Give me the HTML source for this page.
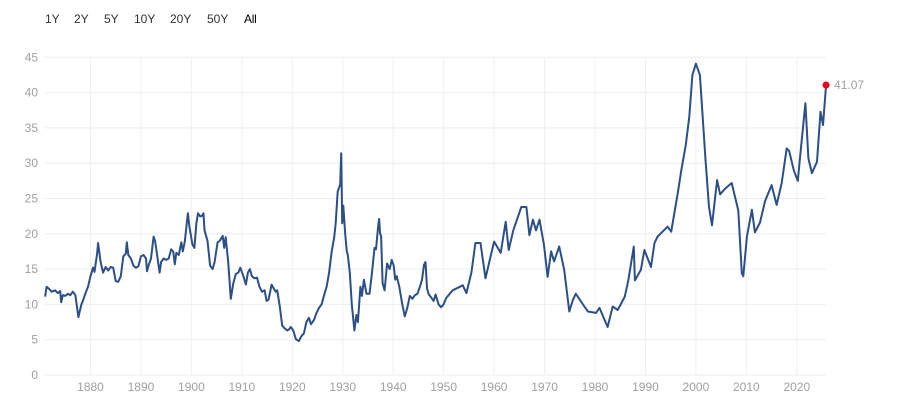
<!DOCTYPE html>
<html><head><meta charset="utf-8"><style>
body{margin:0;background:#fff;font-family:"Liberation Sans",sans-serif;}
#wrap{position:relative;width:917px;height:405px;overflow:hidden;}
.btn{position:absolute;top:12px;font-size:12px;color:#333;cursor:pointer;}
</style></head><body>
<div id="wrap">
<span class="btn" style="left:45px">1Y</span>
<span class="btn" style="left:74px">2Y</span>
<span class="btn" style="left:104px">5Y</span>
<span class="btn" style="left:134px">10Y</span>
<span class="btn" style="left:170px">20Y</span>
<span class="btn" style="left:207px">50Y</span>
<span class="btn" style="left:244px;color:#000;letter-spacing:-0.3px">All</span>
<svg id="chart" width="917" height="405" style="position:absolute;left:0;top:0"></svg>
</div>
<script>
const years=[1871.0,1871.3,1871.8,1872.3,1873,1873.5,1874,1874.2,1874.5,1875,1875.5,1876,1876.5,1877,1877.6,1878.2,1878.5,1879,1879.5,1880,1880.5,1880.8,1881.3,1881.5,1882,1882.5,1883,1883.5,1884,1884.5,1885,1885.5,1886,1886.5,1887,1887.2,1887.5,1888,1888.5,1889,1889.5,1890,1890.5,1891,1891.2,1891.5,1892,1892.5,1892.8,1893.3,1893.7,1894,1894.5,1895,1895.5,1896,1896.4,1896.7,1897,1897.5,1898,1898.3,1898.7,1899,1899.3,1899.6,1900.2,1900.6,1901,1901.3,1901.7,1902,1902.4,1902.6,1903.2,1903.7,1904.2,1904.6,1905.2,1905.6,1906.2,1906.5,1906.8,1907.3,1907.8,1908.3,1908.8,1909.3,1909.7,1910.3,1910.8,1911.2,1911.6,1912,1912.5,1913,1913.5,1914,1914.5,1914.9,1915.3,1915.9,1916.3,1916.7,1917,1917.5,1918,1918.5,1919,1919.4,1919.7,1920.2,1920.7,1921.3,1921.8,1922.3,1922.8,1923.3,1923.7,1924.3,1924.8,1925.3,1925.8,1926.3,1926.8,1927.3,1927.8,1928.3,1928.6,1929,1929.5,1929.7,1929.9,1930.1,1930.5,1930.8,1931,1931.4,1931.8,1932.3,1932.7,1933,1933.5,1933.8,1934.2,1934.7,1935.3,1935.8,1936.3,1936.6,1937,1937.2,1937.4,1937.6,1937.9,1938.3,1938.8,1939.3,1939.7,1940.1,1940.4,1940.7,1941.2,1941.8,1942.3,1942.8,1943.3,1943.8,1944.3,1944.8,1945.3,1945.7,1946.1,1946.4,1946.7,1947,1947.5,1948,1948.4,1949,1949.5,1950,1950.5,1951.8,1953.8,1954.5,1955.5,1956.3,1957.3,1958.3,1959.2,1960,1961.3,1962.3,1962.9,1963.8,1965.4,1966.4,1967.0,1967.7,1968.3,1969,1969.9,1970.6,1971.3,1971.9,1972.9,1973.9,1974.9,1975.6,1976.2,1977.9,1978.6,1980.2,1980.9,1982.5,1983.5,1984.5,1985.9,1986.6,1987.7,1987.9,1989.1,1989.8,1991.1,1991.8,1992.4,1994.4,1995.1,1996.4,1997.1,1998.0,1998.7,1999.3,2000.0,2000.8,2001.9,2002.6,2003.2,2004.2,2004.8,2005.8,2007.1,2008.4,2009.1,2009.4,2010.1,2011.1,2011.7,2012.7,2013.7,2015.0,2016.0,2017.0,2018.0,2018.5,2019.4,2020.2,2020.6,2021.7,2022.3,2023.0,2024.0,2024.7,2025.2,2025.8];
const cape=[11.1,12.5,12.2,11.8,12.0,11.6,11.9,10.3,11.3,11.2,11.5,11.3,11.8,11.3,8.2,10.0,10.5,11.6,12.5,14.0,15.2,14.6,17.2,18.7,16.0,14.5,15.3,14.8,15.3,15.2,13.3,13.2,14.0,16.8,17.2,18.8,17.0,16.5,15.5,15.2,15.4,16.8,17.0,16.5,14.7,15.5,16.5,19.6,19.0,16.5,14.5,16.0,16.5,16.3,16.5,17.8,17.5,15.7,17.3,17.0,18.8,17.5,18.9,21.0,22.9,21.0,18.5,18.0,21.5,22.9,22.5,22.5,22.9,20.5,19.0,15.5,15.0,16.0,18.8,19.0,19.7,18.0,19.5,16.0,10.8,13.0,14.3,14.5,15.2,14.0,12.8,14.5,15.0,14.0,13.7,13.8,12.5,11.8,12.0,10.5,10.7,12.8,12.3,11.8,12.0,9.8,7.0,6.6,6.3,6.5,6.8,6.3,5.1,4.8,5.5,5.9,7.5,8.1,7.2,7.8,8.8,9.5,10.0,11.3,12.5,14.5,17.5,19.5,21.5,26.0,27.0,31.4,21.5,24.0,19.8,17.5,17.0,14.5,10.0,6.3,8.5,7.5,12.5,11.2,13.5,11.5,11.5,14.5,18.0,17.8,21.0,22.1,20.0,19.7,13.0,12.0,15.8,15.0,16.3,15.5,13.5,14.0,12.5,10.0,8.3,9.5,11.2,10.8,11.3,11.5,12.5,13.5,15.6,16.0,12.3,11.5,11.0,10.5,11.4,10.0,9.6,10.0,10.9,12.0,12.7,11.6,14.5,18.7,18.7,13.7,16.5,18.9,17.3,21.7,17.7,20.5,23.8,23.8,19.8,22.0,20.5,22.0,18.4,13.9,17.5,16.1,18.2,14.9,9.0,10.6,11.5,9.7,9.0,8.8,9.5,6.8,9.7,9.2,11.1,13.4,18.2,13.4,14.9,17.7,15.3,18.7,19.6,21.0,20.3,25.7,29.0,32.6,36.6,42.5,44.1,42.5,30.5,23.8,21.2,27.6,25.6,26.4,27.2,23.3,14.4,14.0,19.6,23.4,20.2,21.6,24.6,26.9,24.1,27.2,32.1,31.7,29.0,27.5,30.5,38.5,30.7,28.6,30.2,37.3,35.4,41.07];
const yTicks=[0,5,10,15,20,25,30,35,40,45];
const xTicks=[1880,1890,1900,1910,1920,1930,1940,1950,1960,1970,1980,1990,2000,2010,2020];

const NS='http://www.w3.org/2000/svg';
const svg=document.getElementById('chart');
const L=45,R=826;
function xs(yr){return 90.5+(yr-1880)*5.045;}
function ys(v){return 375-v*7.06;}
function mk(t,a){const e=document.createElementNS(NS,t);for(const k in a)e.setAttribute(k,a[k]);svg.appendChild(e);return e;}
yTicks.forEach(v=>{
  const g=mk('line',{x1:L,x2:R,y1:ys(v),y2:ys(v),stroke:'#eeeeee','stroke-width':1});
  
  
  const t=mk('text',{x:38,y:ys(v)+4,'text-anchor':'end','font-size':12,fill:'#a0a0a0','font-family':'Liberation Sans, sans-serif'});
  t.textContent=v;
  
  
});
xTicks.forEach(yr=>{
  const g=mk('line',{x1:xs(yr),x2:xs(yr),y1:ys(45),y2:ys(0),stroke:'#f0f0f0','stroke-width':1});
  
  
  const t=mk('text',{x:xs(yr),y:391,'text-anchor':'middle','font-size':12,fill:'#a0a0a0','font-family':'Liberation Sans, sans-serif'});
  t.textContent=yr;
  
  
});
let d='';
years.forEach((yr,i)=>{d+=(i?'L':'M')+xs(yr).toFixed(1)+','+ys(cape[i]).toFixed(1);});
const p=mk('path',{d:d,fill:'none',stroke:'#2b4f86','stroke-width':2,'stroke-linejoin':'round'});


const n=years.length-1;
const dot=mk('circle',{cx:xs(years[n]),cy:ys(cape[n]),r:3.5,fill:'#e8001c'});


const lab=mk('text',{x:xs(years[n])+8,y:ys(cape[n])+4,'font-size':12,fill:'#a0a0a0','font-family':'Liberation Sans, sans-serif'});
lab.textContent=cape[n].toFixed(2);


</script>
</body></html>
